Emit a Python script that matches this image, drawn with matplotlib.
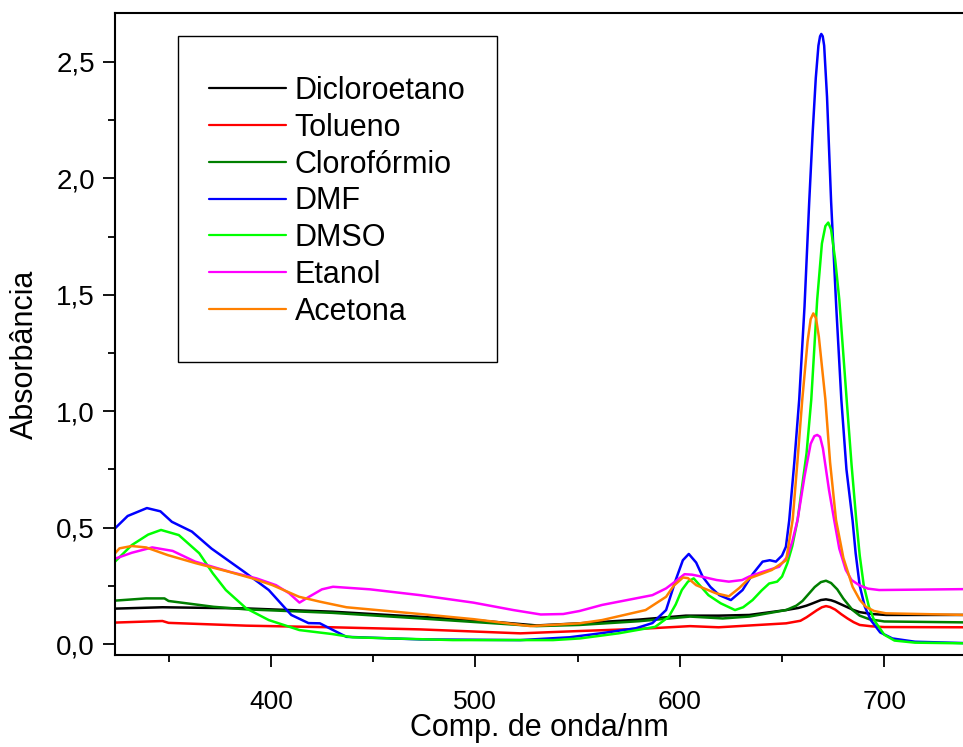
import numpy as np
import matplotlib
matplotlib.use("Agg")
import matplotlib.pyplot as plt
from matplotlib.patches import Rectangle
from matplotlib.ticker import MultipleLocator, FuncFormatter

plt.rcParams["font.family"] = ["Liberation Sans", "DejaVu Sans"]

# ── UV-Vis spectra, one solvent per series ────────────────────────────────────

wl_dicloroetano = [323, 347, 388, 430, 473, 499, 530, 551, 580, 603, 619, 634, 652,
                   658, 662, 665, 667, 669, 671.5, 674, 676, 679, 682, 685, 688,
                   694, 701, 740]
abs_dicloroetano = [0.152, 0.158, 0.153, 0.139, 0.117, 0.103, 0.080, 0.089, 0.105,
                    0.122, 0.122, 0.125, 0.146, 0.155, 0.165, 0.175, 0.182, 0.189,
                    0.192, 0.188, 0.182, 0.170, 0.158, 0.146, 0.137, 0.129, 0.125,
                    0.125]

wl_tolueno = [323, 347, 350, 388, 430, 473, 522, 551, 580, 605, 619, 652, 659, 662,
              665, 667, 669.5, 671.5, 673.5, 676, 679, 682, 685, 688, 694, 700, 740]
abs_tolueno = [0.092, 0.099, 0.091, 0.079, 0.072, 0.063, 0.046, 0.056, 0.065, 0.077,
               0.072, 0.089, 0.100, 0.115, 0.133, 0.145, 0.158, 0.163, 0.159, 0.148,
               0.128, 0.110, 0.094, 0.082, 0.076, 0.073, 0.072]

wl_cloroformio = [323, 339, 348, 350, 372, 388, 430, 473, 530, 551, 580, 605, 621,
                  634, 652, 657, 660, 663, 666, 669, 671.5, 674, 677, 680, 684.5,
                  688, 692.6, 700, 740]
abs_cloroformio = [0.186, 0.196, 0.196, 0.185, 0.160, 0.149, 0.134, 0.110, 0.077,
                   0.082, 0.098, 0.118, 0.110, 0.118, 0.146, 0.165, 0.185, 0.215,
                   0.245, 0.266, 0.272, 0.262, 0.235, 0.195, 0.146, 0.122, 0.107,
                   0.097, 0.093]

wl_dmf = [323, 330, 339.4, 346, 351.6, 361.4, 371, 387, 399, 410, 418.4, 424, 430,
          437, 473, 522, 546, 562, 578.6, 586.6, 593.3, 598, 601.5, 604.4, 608,
          611.2, 615, 619.3, 625, 630.7, 635.6, 640.5, 644, 647, 650, 651.9, 653.5,
          656, 658.4, 661, 663.3, 665, 666.5, 667.8, 668.6, 669.2, 669.9, 670.6,
          672, 674, 676.5, 679, 681.5, 684.5, 686, 688, 690.5, 693.4, 698, 704,
          715, 740]
abs_dmf = [0.490, 0.550, 0.584, 0.570, 0.525, 0.483, 0.410, 0.310, 0.232, 0.125,
           0.090, 0.089, 0.062, 0.031, 0.020, 0.017, 0.029, 0.047, 0.068, 0.090,
           0.146, 0.275, 0.360, 0.387, 0.350, 0.289, 0.245, 0.210, 0.189, 0.232,
           0.300, 0.354, 0.360, 0.354, 0.380, 0.418, 0.530, 0.780, 1.050, 1.450,
           1.900, 2.200, 2.430, 2.570, 2.610, 2.620, 2.610, 2.570, 2.350, 1.900,
           1.450, 1.050, 0.750, 0.530, 0.390, 0.250, 0.160, 0.103, 0.050, 0.024,
           0.010, 0.004]

wl_dmso = [323, 332, 340, 346.3, 355, 365, 371.6, 378, 388, 399, 414, 430, 440, 489,
           538, 551, 570, 588, 594.6, 598, 601, 604, 606.8, 610, 614, 620, 627,
           631, 635.6, 640, 643.7, 647.6, 650, 652.6, 655, 657.6, 662, 664.3,
           667.2, 669.5, 671.2, 672.6, 674, 676, 678, 681.6, 684, 686.3, 688, 690,
           692.5, 695, 700, 705, 715, 740]
abs_dmso = [0.347, 0.425, 0.470, 0.490, 0.468, 0.390, 0.304, 0.232, 0.153, 0.103,
            0.060, 0.043, 0.029, 0.017, 0.017, 0.024, 0.046, 0.074, 0.117, 0.170,
            0.232, 0.268, 0.282, 0.250, 0.210, 0.175, 0.146, 0.158, 0.189, 0.230,
            0.260, 0.268, 0.290, 0.347, 0.420, 0.533, 0.820, 1.050, 1.480, 1.720,
            1.795, 1.810, 1.780, 1.650, 1.480, 1.050, 0.770, 0.533, 0.380, 0.250,
            0.160, 0.103, 0.040, 0.015, 0.006, 0.003]

wl_etanol = [323, 332, 342, 352, 363, 380, 393, 402.5, 409, 414, 418.7, 425, 430.4,
             448.5, 473, 499, 518.6, 532, 543, 551, 562, 586.6, 593.3, 598, 602.3,
             606, 611, 618, 624, 630.5, 634, 640.5, 648.6, 652.6, 655, 657.6, 661,
             664, 665.8, 667.2, 668.6, 670, 673, 675.5, 678, 681.2, 684, 687.7,
             692, 697.5, 740]
abs_etanol = [0.364, 0.392, 0.415, 0.400, 0.354, 0.310, 0.282, 0.253, 0.218, 0.178,
              0.203, 0.235, 0.246, 0.235, 0.210, 0.178, 0.146, 0.127, 0.129, 0.142,
              0.168, 0.210, 0.239, 0.270, 0.300, 0.298, 0.289, 0.275, 0.268, 0.275,
              0.290, 0.310, 0.332, 0.375, 0.440, 0.533, 0.720, 0.860, 0.893, 0.898,
              0.890, 0.840, 0.660, 0.533, 0.410, 0.318, 0.275, 0.253, 0.238, 0.232,
              0.236]

wl_acetona = [323, 326, 332, 339, 349.6, 363.4, 379.7, 391, 400.8, 413.8, 424, 437,
              473, 499, 527, 551, 562, 583.3, 593.3, 597, 601.6, 604, 608, 617.7,
              624, 629, 634, 645, 652, 655.2, 657.5, 659.9, 662.5, 664, 665.3, 666.6,
              668, 671.2, 673.5, 676.4, 680, 684.5, 688, 691, 695, 700.8, 740]
abs_acetona = [0.382, 0.411, 0.421, 0.415, 0.382, 0.347, 0.310, 0.282, 0.253, 0.203,
               0.182, 0.158, 0.129, 0.107, 0.077, 0.089, 0.103, 0.146, 0.203, 0.250,
               0.286, 0.283, 0.253, 0.218, 0.205, 0.240, 0.282, 0.318, 0.360, 0.533,
               0.780, 1.050, 1.300, 1.395, 1.420, 1.400, 1.320, 1.050, 0.780, 0.533,
               0.370, 0.246, 0.190, 0.160, 0.142, 0.132, 0.125]

series = [
    ("Dicloroetano", wl_dicloroetano, abs_dicloroetano, "#000000"),
    ("Tolueno",      wl_tolueno,      abs_tolueno,      "#ff0000"),
    ("Clorofórmio",  wl_cloroformio,  abs_cloroformio,  "#007f00"),
    ("DMF",          wl_dmf,          abs_dmf,          "#0000ff"),
    ("DMSO",         wl_dmso,         abs_dmso,         "#00ff00"),
    ("Etanol",       wl_etanol,       abs_etanol,       "#ff00ff"),
    ("Acetona",      wl_acetona,      abs_acetona,      "#ff8000"),
]

# ── Figure ────────────────────────────────────────────────────────────────────

W, H = 963, 747
fig = plt.figure(figsize=(W / 100, H / 100), dpi=100)
ax = fig.add_axes([115 / W, 92 / H, 1 - 115 / W, 642 / H])

for label, x, y, color in series:
    ax.plot(x, y, color=color, lw=1.8, label=label,
            solid_joinstyle="round", solid_capstyle="round")

ax.set_xlim(323.8, 738.5)
ax.set_ylim(-0.047, 2.71)

ax.xaxis.set_major_locator(MultipleLocator(100))
ax.xaxis.set_minor_locator(MultipleLocator(50))
ax.yaxis.set_major_locator(MultipleLocator(0.5))
ax.yaxis.set_minor_locator(MultipleLocator(0.25))
ax.yaxis.set_major_formatter(FuncFormatter(lambda v, _: f"{v:.1f}".replace(".", ",")))

ax.tick_params(which="major", direction="out", length=8.5, width=1.3)
ax.tick_params(which="minor", direction="out", length=5, width=1.3)
ax.tick_params(axis="x", which="major", pad=17, labelsize=19)
ax.tick_params(axis="y", which="major", pad=6, labelsize=20)

for side in ["left", "bottom", "top"]:
    ax.spines[side].set_linewidth(1.5)
ax.spines["right"].set_visible(False)

ax.set_xlabel("Comp. de onda/nm", fontsize=22)
ax.set_ylabel("Absorbância", fontsize=22)
ax.xaxis.set_label_coords(0.5, -0.114)
ax.xaxis.label.set_verticalalignment("center")
ax.yaxis.set_label_coords(-0.106, 0.469)
ax.yaxis.label.set_verticalalignment("center")

# legend entries without their own frame; a taller box is drawn around them
leg = ax.legend(loc="upper left", bbox_to_anchor=(178 / W, 1 - 45 / H),
                bbox_transform=fig.transFigure, fontsize=22, frameon=False,
                handlelength=2.5, handletextpad=0.3, labelspacing=0.22,
                borderpad=1.02, borderaxespad=0)
for line in leg.get_lines():
    line.set_linewidth(1.6)

fig.patches.append(Rectangle((178 / W, 1 - 362 / H), 319 / W, 326 / H,
                             transform=fig.transFigure, fill=False,
                             edgecolor="black", linewidth=1.0, zorder=5))

fig.savefig("out.png", dpi=100)
